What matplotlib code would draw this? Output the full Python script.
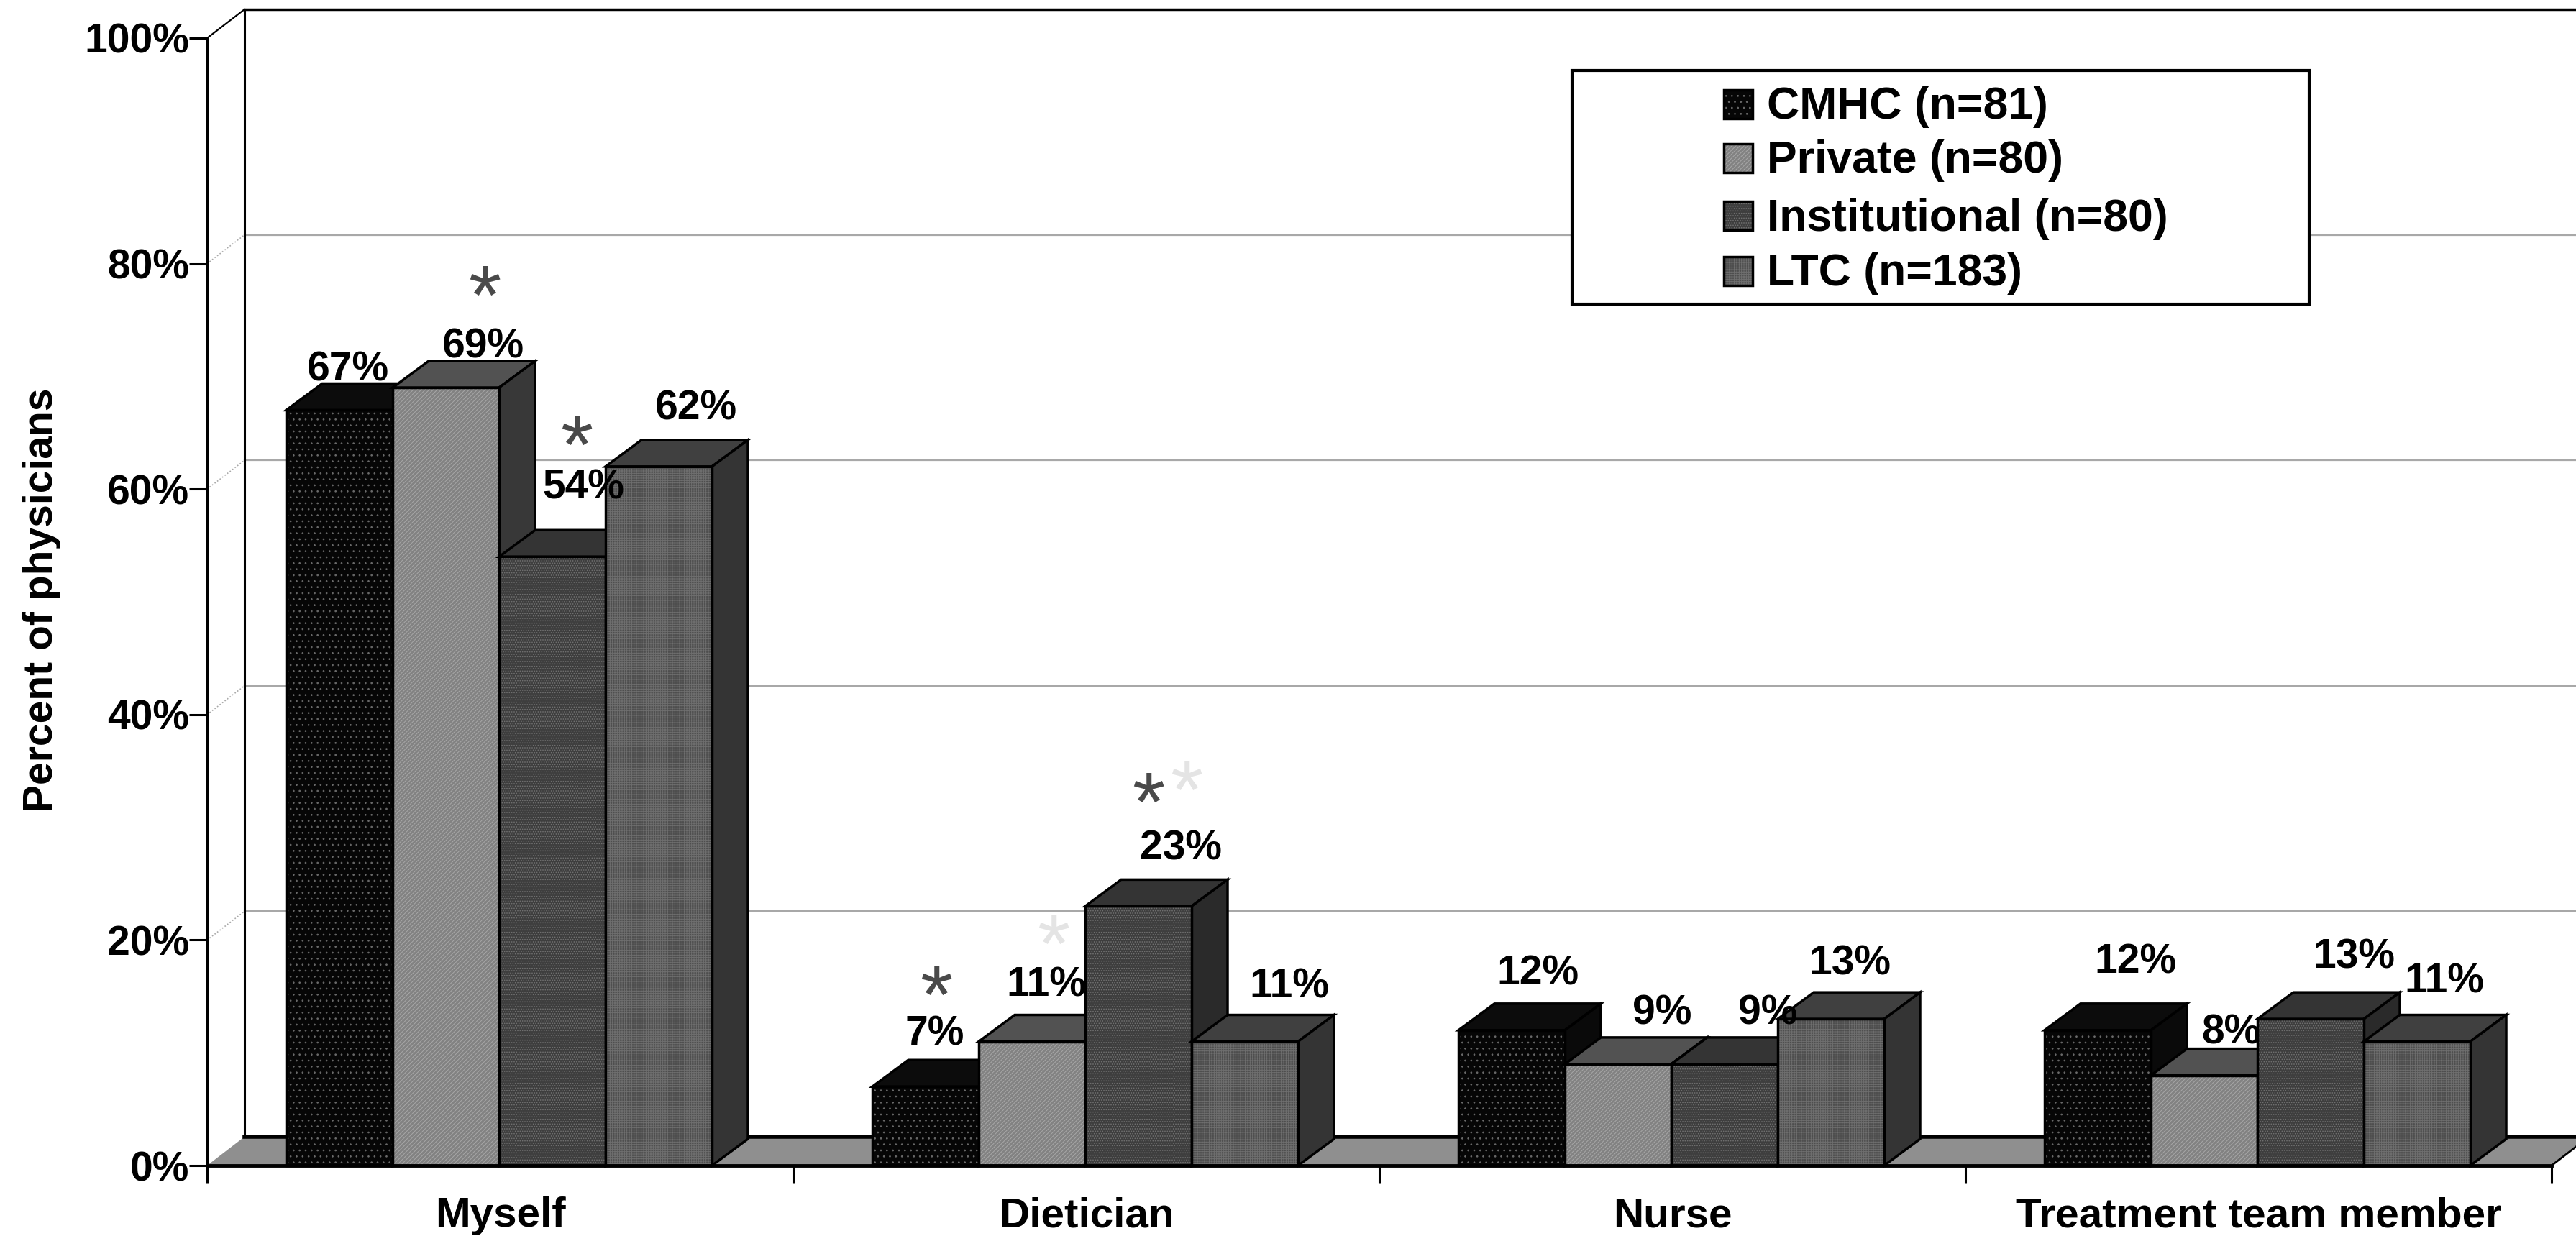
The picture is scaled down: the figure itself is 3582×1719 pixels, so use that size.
import matplotlib
matplotlib.use('Agg')
import matplotlib.pyplot as plt
from matplotlib.patches import Polygon, Rectangle

plt.rcParams['font.family'] = ['Liberation Sans', 'DejaVu Sans']
plt.rcParams['font.weight'] = 'bold'
plt.rcParams['hatch.linewidth'] = 0.7

# values
categories = ['Myself', 'Dietician', 'Nurse', 'Treatment team member']
cmhc = [67, 7, 12, 12]
private = [69, 11, 9, 8]
institutional = [54, 23, 9, 13]
ltc = [62, 11, 13, 11]
series_names = ['CMHC (n=81)', 'Private (n=80)', 'Institutional (n=80)', 'LTC (n=183)']
yticks = [0, 20, 40, 60, 80, 100]

# scale of the picture: x 0 = 288px, one category = 815px, y 0 = 1621px, 1% = 15.68px
W, H = 3582, 1719
X0, CAT, Y0, PCT = 288, 815, 1621, 15.68


def px_x(x):
    return (x - X0) / CAT


def px_y(y):
    return (Y0 - y) / PCT


# front color, top color, side color, hatch, hatch color
styles = [
    ('#060606', '#0c0c0c', '#0a0a0a', '..', '#6a6a6a'),
    ('#828282', '#525252', '#383838', '//////', '#a8a8a8'),
    ('#3e3e3e', '#343434', '#2a2a2a', '.....', '#707070'),
    ('#4e4e4e', '#404040', '#343434', '+++++', '#6e6e6e'),
]

fig = plt.figure(figsize=(W / 100, H / 100), dpi=100)
ax = fig.add_axes([0, 0, 1, 1])
ax.set_xlim(px_x(0), px_x(W))
ax.set_ylim(px_y(H), px_y(0))
ax.patch.set_alpha(0)

# depth of walls and bars
wall_dx, wall_dy = 52 / CAT, 40 / PCT
bar_dx, bar_dy = 50 / CAT, 37 / PCT
bar_w = 148 / CAT
bar_start = 110 / CAT
right = 4 + 100 / CAT

# floor
ax.add_patch(Polygon([(0, 0), (4, 0), (4 + wall_dx, wall_dy), (right, wall_dy),
                      (right, wall_dy), (wall_dx, wall_dy)],
                     facecolor='#8f8f8f', edgecolor='none', zorder=1))
ax.plot([wall_dx, right], [wall_dy, wall_dy], color='black', lw=4, zorder=1.5)
ax.plot([4, 4 + wall_dx], [0, wall_dy], color='black', lw=2, zorder=1.5)

# back wall and grid
ax.plot([wall_dx, wall_dx], [wall_dy, 100 + wall_dy], color='black', lw=2.2, zorder=1.5)
ax.plot([wall_dx, right], [100 + wall_dy, 100 + wall_dy], color='black', lw=2.5, zorder=1.5)
ax.plot([0, wall_dx], [100, 100 + wall_dy], color='black', lw=1.6, zorder=1.5)
for t in yticks[1:-1]:
    ax.plot([wall_dx, right], [t + wall_dy, t + wall_dy], color='#a8a8a8', lw=1.6, zorder=1)
    ax.plot([0, wall_dx], [t, t + wall_dy], color='#a8a8a8', lw=1.2, ls=':', zorder=1)

# bars, left to right so each one covers the side of the one before
series = [cmhc, private, institutional, ltc]
for j, (values, st) in enumerate(zip(series, styles)):
    front, topc, sidec, hatch, hatchc = st
    z = 3 + 0.1 * j
    x = [i + bar_start + j * bar_w for i in range(len(categories))]
    for i in range(len(categories)):
        l, v = x[i], values[i]
        r = l + bar_w
        ax.add_patch(Polygon([(l, v), (r, v), (r + bar_dx, v + bar_dy), (l + bar_dx, v + bar_dy)],
                             facecolor=topc, edgecolor='black', lw=2.5, zorder=z))
        ax.add_patch(Polygon([(r, 0), (r + bar_dx, bar_dy), (r + bar_dx, v + bar_dy), (r, v)],
                             facecolor=sidec, edgecolor='black', lw=2.5, zorder=z))
        ax.bar(l, v, bar_w, align='edge', color=front, edgecolor=hatchc, hatch=hatch, lw=0, zorder=z)
        ax.bar(l, v, bar_w, align='edge', fill=False, edgecolor='black', lw=2.5, zorder=z)

# value labels, hand placed in the original (centres in px)
label_x = [
    [484, 672, 811, 968],
    [1300, 1455, 1642, 1793],
    [2138, 2311, 2458, 2572],
    [2969, 3102, 3273, 3399],
]
label_y = [
    [514, 482, 678, 568],
    [1438, 1370, 1180, 1372],
    [1354, 1409, 1409, 1340],
    [1338, 1436, 1331, 1365],
]
for i in range(len(categories)):
    for j in range(4):
        # the 8% in the last group goes behind the bar next to it
        z = 3.15 if (i, j) == (3, 1) else 6
        ax.text(px_x(label_x[i][j]), px_y(label_y[i][j]), f'{series[j][i]}%', fontsize=41,
                ha='center', va='center', color='black', zorder=z)

# significance stars
star_x = [674, 802, 1302, 1597]
star_y = [408, 616, 1381, 1113]
for sx, sy in zip(star_x, star_y):
    ax.text(px_x(sx), px_y(sy), '*', fontsize=84, ha='center', va='center_baseline',
            color='#4a4a4a', zorder=6, fontweight='normal')
speck_x = [1650, 1465]
speck_y = [1096, 1310]
for sx, sy in zip(speck_x, speck_y):
    ax.text(px_x(sx), px_y(sy), '*', fontsize=84, ha='center', va='center_baseline',
            color='#e4e4e4', zorder=2, fontweight='normal')

# axes
for s in ['top', 'right']:
    ax.spines[s].set_visible(False)
ax.spines['left'].set_position(('data', 0))
ax.spines['left'].set_bounds(0, 100)
ax.spines['left'].set_linewidth(2.2)
ax.spines['bottom'].set_position(('data', 0))
ax.spines['bottom'].set_bounds(0, 4)
ax.spines['bottom'].set_linewidth(3.5)
ax.spines['left'].set_zorder(5)
ax.spines['bottom'].set_zorder(5)

ax.set_yticks(yticks)
ax.set_yticklabels([f'{t}%' for t in yticks], fontsize=41)
ax.tick_params(axis='y', length=18, width=2.2, pad=0)
ax.set_xticks(range(5))
ax.set_xticklabels([])
ax.set_xticks([i + 0.5 for i in range(4)], labels=categories, minor=True, fontsize=42)
ax.tick_params(axis='x', which='major', length=17, width=2.2)
ax.tick_params(axis='x', which='minor', length=0, pad=31)

ax.set_ylabel('Percent of physicians', fontsize=41, fontweight='bold')
ax.yaxis.set_label_coords(85 / W, 1 - 834 / H)

# legend box
ax.add_patch(Rectangle((px_x(2186), px_y(423)), 1025 / CAT, 325 / PCT, facecolor='white',
                       edgecolor='black', lw=3, zorder=7))
leg_y = [145, 220, 300, 377]
for name, st, ly in zip(series_names, styles, leg_y):
    ax.add_patch(Rectangle((px_x(2397), px_y(ly + 20)), 40 / CAT, 40 / PCT, facecolor=st[0],
                           edgecolor=st[4], hatch=st[3], lw=0, zorder=8))
    ax.add_patch(Rectangle((px_x(2397), px_y(ly + 20)), 40 / CAT, 40 / PCT, fill=False,
                           edgecolor='black', lw=2.5, zorder=8))
    ax.text(px_x(2457), px_y(ly + 4), name, fontsize=45, ha='left', va='center', zorder=8)

fig.savefig('out.png', dpi=100, facecolor='white')
